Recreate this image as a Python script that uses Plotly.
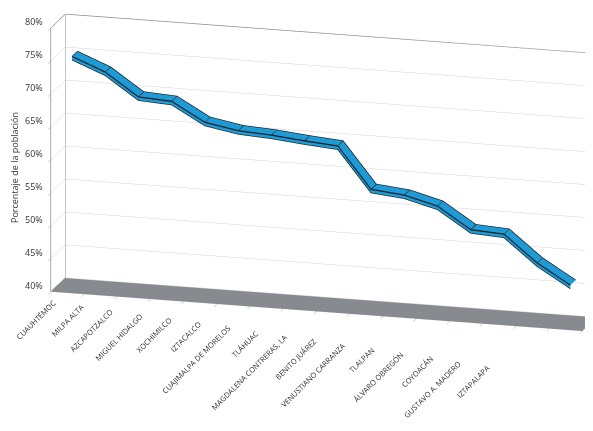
import math
import plotly.graph_objects as go

categories = ["CUAUHTÉMOC", "MILPA ALTA", "AZCAPOTZALCO", "MIGUEL HIDALGO", "XOCHIMILCO",
              "IZTACALCO", "CUAJIMALPA DE MORELOS", "TLÁHUAC", "MAGDALENA CONTRERAS, LA",
              "BENITO JUÁREZ", "VENUSTIANO CARRANZA", "TLALPAN", "ÁLVARO OBREGÓN",
              "COYOACÁN", "GUSTAVO A. MADERO", "IZTAPALAPA"]
values = [75.2, 73.2, 69.8, 69.5, 66.7, 65.8, 65.5, 65.0, 64.6,
          58.4, 57.9, 56.6, 53.4, 53.1, 49.1, 46.1]
z_ticks = [40, 45, 50, 55, 60, 65, 70, 75, 80]

BLUE = "#1e9ad6"
EDGE = "#1a1a1a"
FONT = "Open Sans"

n = len(categories)
idx = list(range(n))
y0, y1 = 0.32, 0.68
thick = 0.5
xmin, xmax = -0.5, n - 0.5
zmin, zmax = 40, 80

fig = go.Figure()

flat = dict(ambient=1, diffuse=0, specular=0, roughness=1, fresnel=0)
fig.add_trace(go.Surface(
    x=idx, y=[y0, y1], z=[values, values],
    surfacecolor=[[0] * n] * 2,
    colorscale=[[0, BLUE], [1, BLUE]], showscale=False, cmin=0, cmax=1,
    lighting=flat,
    contours=dict(x=dict(show=True, start=0, end=n - 1, size=1, color=EDGE, width=2)),
    hoverinfo="skip"))
fig.add_trace(go.Surface(
    x=[idx, idx], y=[[y0] * n] * 2,
    z=[[v - thick for v in values], values],
    surfacecolor=[[0] * n] * 2,
    colorscale=[[0, BLUE], [1, BLUE]], showscale=False, cmin=0, cmax=1,
    lighting=flat, hoverinfo="skip"))
for yy, dz in [(y0, 0), (y1, 0), (y0, -thick)]:
    fig.add_trace(go.Scatter3d(
        x=idx, y=[yy] * n, z=[v + dz for v in values],
        mode="lines", line=dict(color=EDGE, width=2.5), hoverinfo="skip", showlegend=False))

# wall outline
fig.add_trace(go.Scatter3d(
    x=[xmax, xmin, xmin, xmin, xmin], y=[1, 1, 0, 0, 1], z=[zmax, zmax, zmax, zmin, zmin],
    mode="lines", line=dict(color="#8c8c8c", width=1.5), hoverinfo="skip", showlegend=False))
fig.add_trace(go.Scatter3d(
    x=[xmin, xmin], y=[1, 1], z=[zmin, zmax],
    mode="lines", line=dict(color="#8c8c8c", width=1.5), hoverinfo="skip", showlegend=False))

annotations = []
for i, c in enumerate(categories):
    annotations.append(dict(x=i, y=0, z=zmin, text=c, showarrow=False, textangle=-45,
                            xanchor="right", yanchor="top",
                            xshift=-7 - 4.23 * i, yshift=-2 - 1.87 * i,
                            font=dict(family=FONT, size=7.5, color="#333")))
for t in z_ticks:
    annotations.append(dict(x=xmin, y=0, z=t, text=f"{t}%", showarrow=False,
                            xanchor="right", xshift=-6, yshift=6,
                            font=dict(family=FONT, size=9, color="#333")))

yaw = math.radians(15.5)
elev = math.radians(15.5)
dist = 2.0
shift = dict(x=-0.093, y=0.0, z=-0.252)
eye = dict(x=dist * math.sin(yaw) * math.cos(elev) + shift["x"],
           y=-dist * math.cos(yaw) * math.cos(elev) + shift["y"],
           z=dist * math.sin(elev) + shift["z"])

axis_common = dict(showspikes=False, title=dict(text=""), zeroline=False)
fig.update_layout(
    width=593, height=431,
    margin=dict(l=0, r=0, t=0, b=0),
    paper_bgcolor="white",
    showlegend=False,
    scene=dict(
        domain=dict(x=[0.0, 1.0], y=[0.0, 1.0]),
        xaxis=dict(range=[xmin, xmax], showgrid=False, showticklabels=False,
                   ticks="outside", tickvals=[i - 0.5 for i in range(n + 1)], ticklen=4,
                   tickcolor="#999",
                   showbackground=True, backgroundcolor="white", **axis_common),
        yaxis=dict(range=[0, 1], showgrid=False, showticklabels=False, ticks="",
                   showbackground=True, backgroundcolor="white", **axis_common),
        zaxis=dict(range=[zmin, zmax], tickvals=z_ticks, showticklabels=False,
                   ticks="outside", ticklen=4, tickcolor="#999",
                   showgrid=True, gridcolor="#d4d4d4", gridwidth=1,
                   showbackground=True, backgroundcolor="#878b90", **axis_common),
        aspectmode="manual", aspectratio=dict(x=2.56, y=0.25, z=1.27),
        camera=dict(eye=eye, center=shift,
                    up=dict(x=0, y=0, z=1), projection=dict(type="orthographic")),
        annotations=annotations,
    ),
    annotations=[
        dict(text="Porcentaje de la población", x=0.012, y=0.629, xref="paper", yref="paper",
             xanchor="center", yanchor="middle",
             textangle=-90, showarrow=False, font=dict(family=FONT, size=9, color="#333")),
        dict(text="Delegación", x=0.265, y=-0.003, xref="paper", yref="paper",
             yanchor="middle", showarrow=False, font=dict(family=FONT, size=9, color="#333")),
    ],
)

fig.write_html("out.html")
